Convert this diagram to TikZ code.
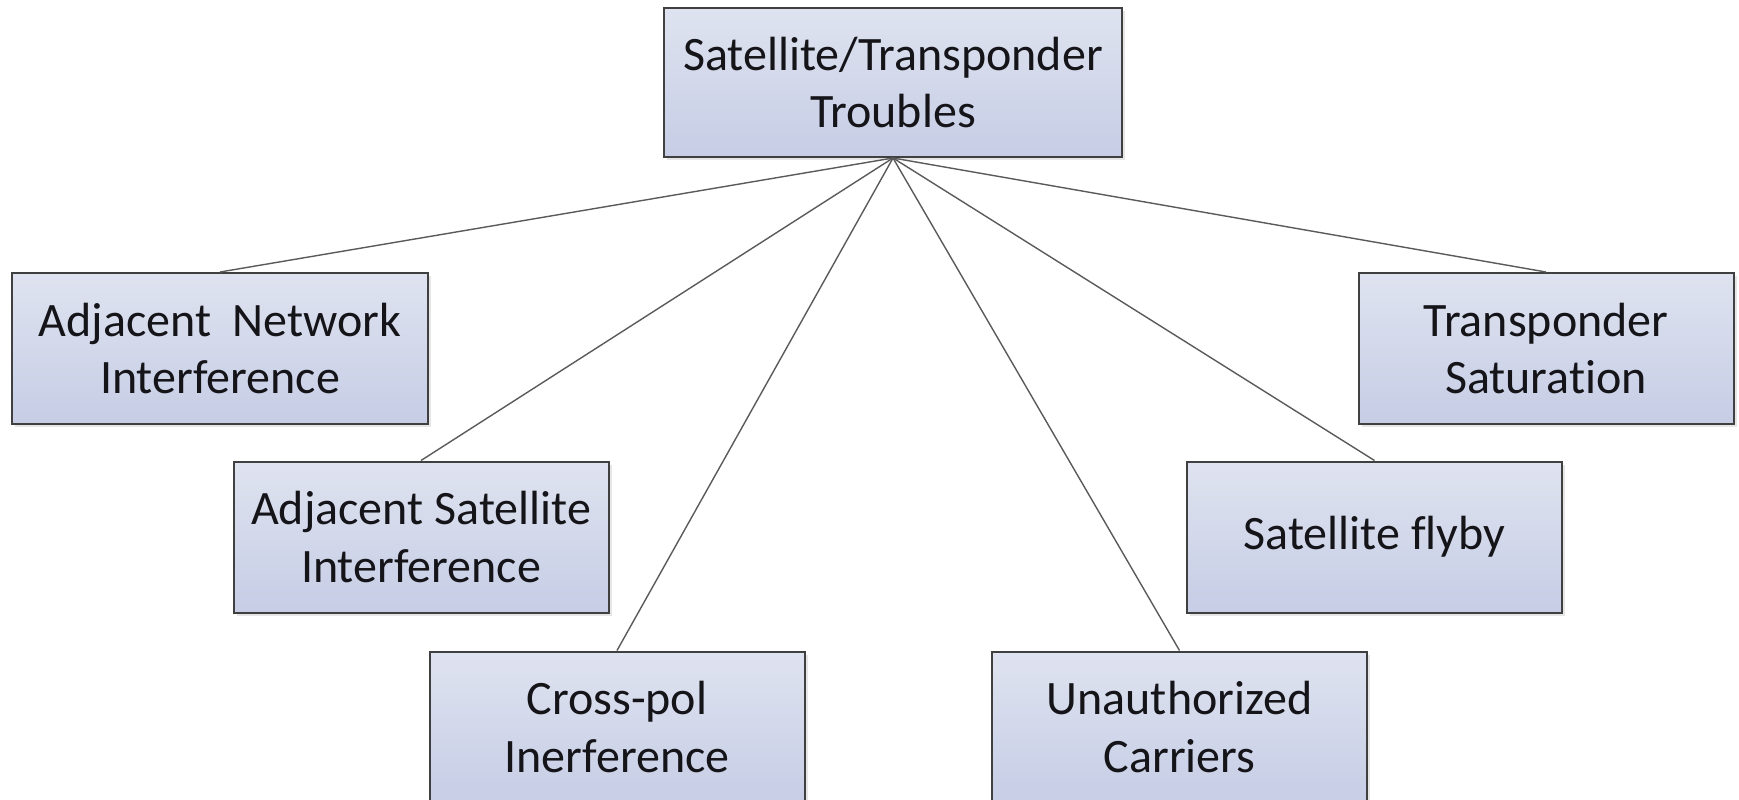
\documentclass[tikz,border=0pt]{standalone}
\usepackage{fontspec}
\setmainfont[Ligatures={NoCommon,NoContextual},RawFeature={-liga;-clig;-calt;-dlig}]{Carlito}
\usetikzlibrary{shadows}
\definecolor{boxtop}{RGB}{223,227,240}
\definecolor{boxbot}{RGB}{198,205,229}
\definecolor{boxline}{RGB}{64,64,64}
\definecolor{wire}{RGB}{90,90,90}
\definecolor{ink}{RGB}{20,20,25}
\begin{document}
\begin{tikzpicture}[x=0.5pt,y=-0.5pt,
  trouble/.style={draw=boxline,line width=1pt,top color=boxtop,bottom color=boxbot,
    drop shadow={opacity=0.2,shadow xshift=1.5pt,shadow yshift=-1.5pt},
    minimum width=187.5pt,minimum height=75.5pt,align=center,text=ink,
    font=\fontsize{24}{28.8}\selectfont,inner sep=0pt},
  wireline/.style={draw=wire,line width=0.7pt}]
 \useasboundingbox (0,0) rectangle (1739,799);
 \node[trouble,minimum width=229pt,minimum height=74.5pt] (troubles) at (893,82.5) {Satellite/Transponder\\Troubles};
 \node[trouble,minimum width=208pt] (adjnet) at (220,348.5) {Adjacent\ \ Network\\Interference};
 \node[trouble] (adjsat) at (421,537) {Adjacent Satellite\\Interference};
 \node[trouble] (crosspol) at (617,727) {Cross-pol\\Inerference};
 \node[trouble] (unauth) at (1179.5,727) {Unauthorized\\Carriers};
 \node[trouble] (flyby) at (1374.5,537) {Satellite flyby};
 \node[trouble] (saturation) at (1546,348.5) {Transponder\\Saturation};
 \foreach \kid in {adjnet,adjsat,crosspol,unauth,flyby,saturation}
  \draw[wireline] (troubles.south) -- (\kid.north);
\end{tikzpicture}
\end{document}
